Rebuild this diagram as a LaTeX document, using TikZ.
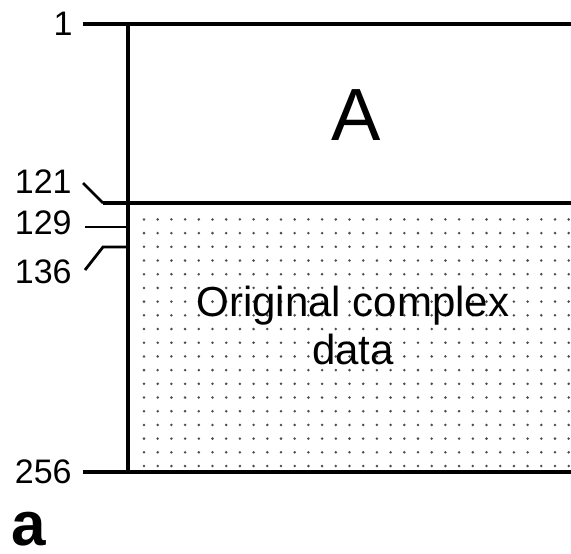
\documentclass[tikz,border=0pt]{standalone}
\usepackage{fontspec}
\setmainfont{Liberation Sans}
\usetikzlibrary{positioning}

\begin{document}
\begin{tikzpicture}[
  x=0.5pt, y=-0.5pt,
  every node/.style={inner sep=0pt},
  axisline/.style={line width=2pt},
  tickline/.style={line width=1.4pt},
  rowlabel/.style={anchor=base east, font=\fontsize{17}{20}\selectfont},
  griddot/.style={fill=black!70}
]
  \useasboundingbox (0,0) rectangle (571,553);

  % Dotted region of the original data
  \foreach \i in {0,...,31} {
    \foreach \j in {0,...,18} {
      \fill[griddot] (144+\i*13.7, 466-\j*13.7) circle (1.4);
    }
  }

  % Row labels
  \node[rowlabel] (r1)   at (73,35)  {1};
  \node[rowlabel] (r121) at (72,193) {121};
  \node[rowlabel] (r129) at (72,234) {129};
  \node[rowlabel] (r136) at (72,283) {136};
  \node[rowlabel] (r256) at (72,483) {256};

  % Axis points
  \coordinate (t1)   at (83,24);
  \coordinate (a1)   at (128,24);
  \coordinate (e1)   at (571,24);
  \coordinate (t121) at (83,183);
  \coordinate (k121) at (103,203);
  \coordinate (e121) at (571,203);
  \coordinate (t129) at (85,227);
  \coordinate (a129) at (128,227);
  \coordinate (t136) at (85,270);
  \coordinate (k136) at (103,247);
  \coordinate (a136) at (128,247);
  \coordinate (t256) at (83,472);
  \coordinate (a256) at (128,472);
  \coordinate (e256) at (571,472);

  % Frame lines
  \draw[axisline] (t1) -- (e1);
  \draw[axisline] (a1) -- (a256);
  \draw[axisline] (k121) -- (e121);
  \draw[axisline] (t256) -- (e256);

  % Ticks
  \draw[tickline] (t121) -- (k121);
  \draw[tickline] (t129) -- (a129);
  \draw[tickline] (t136) -- (k136) -- (a136);

  % Block texts
  \node[anchor=base, font=\fontsize{37}{40}\selectfont] (blockA) at (356,140) {A};
  \node[anchor=base, align=center, font=\fontsize{21}{24}\selectfont] (orig) at (353,364) {Original complex\\data};

  % Panel letter
  \node[anchor=base west, font=\fontsize{31}{34}\selectfont\bfseries] (panel) at (11,545) {a};
\end{tikzpicture}
\end{document}
